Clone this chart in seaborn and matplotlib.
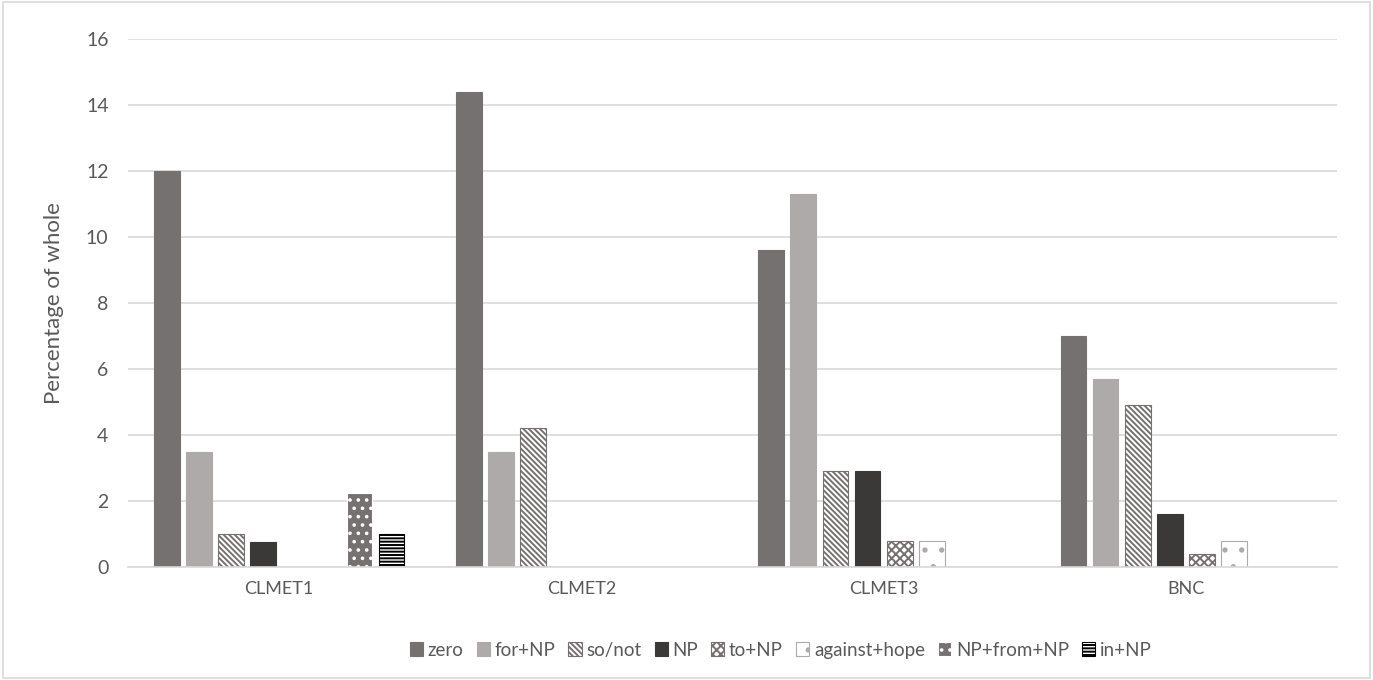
import matplotlib
matplotlib.use("Agg")
import matplotlib.pyplot as plt
import pandas as pd
import seaborn as sns
from matplotlib.patches import Rectangle

# valeurs (% du total)
CORPORA = ["CLMET1", "CLMET2", "CLMET3", "BNC"]
CONSTRUCTIONS = ["zero", "for+NP", "so/not", "NP", "to+NP",
                 "against+hope", "NP+from+NP", "in+NP"]
zero = [12.0, 14.4, 9.6, 7.0]
for_np = [3.5, 3.5, 11.3, 5.7]
so_not = [1.0, 4.2, 2.9, 4.9]
np_only = [0.75, 0.0, 2.9, 1.6]
to_np = [0.0, 0.0, 0.8, 0.4]
against_hope = [0.0, 0.0, 0.8, 0.8]
np_from_np = [2.25, 0.0, 0.0, 0.0]
in_np = [1.0, 0.0, 0.0, 0.0]

series = [zero, for_np, so_not, np_only, to_np, against_hope, np_from_np, in_np]

# (fond, couleur hachure/bord, hachure)
STYLES = {
    "zero": ("#767171", "#767171", None),
    "for+NP": ("#AEAAAA", "#AEAAAA", None),
    "so/not": ("white", "#767171", "\\\\\\\\\\\\"),
    "NP": ("#3B3838", "#3B3838", None),
    "to+NP": ("white", "#767171", "xxxx"),
    "against+hope": ("white", "#AEAAAA", "."),
    "NP+from+NP": ("#767171", "white", ".."),
    "in+NP": ("white", "black", "-----"),
}

rows = []
for name, vals in zip(CONSTRUCTIONS, series):
    for corpus, v in zip(CORPORA, vals):
        rows.append({"corpus": corpus, "construction": name, "value": v})
df = pd.DataFrame(rows)

sns.set_theme(style="whitegrid")
plt.rcParams["font.family"] = ["Lato", "DejaVu Sans"]
plt.rcParams["hatch.linewidth"] = 1.4

fig = plt.figure(figsize=(13.73, 6.80), dpi=100)
ax = fig.add_axes([0.0932, 0.166, 0.8806, 0.777])

sns.barplot(data=df, x="corpus", y="value", hue="construction",
            order=CORPORA, hue_order=CONSTRUCTIONS, width=0.85, gap=0.2,
            ax=ax, legend=False)

for name, cont in zip(CONSTRUCTIONS, ax.containers):
    face, edge, hatch = STYLES[name]
    for bar in cont:
        bar.set_facecolor(face)
        bar.set_edgecolor(edge)
        bar.set_hatch(hatch)
        bar.set_linewidth(0.8 if bar.get_height() > 0 else 0)

ax.set_ylim(0, 16)
ax.set_yticks(range(0, 17, 2))
ax.set_xlabel("")
ax.set_ylabel("Percentage of whole", fontsize=16, color="#595959", labelpad=16)
ax.tick_params(axis="y", labelsize=14, colors="#595959", length=0, pad=14)
ax.tick_params(axis="x", labelsize=13, colors="#595959", length=0, pad=10)
ax.grid(axis="y", color="#D9D9D9", linewidth=1.2)
ax.grid(axis="x", visible=False)
for side in ["left", "right", "top"]:
    ax.spines[side].set_visible(False)
ax.spines["bottom"].set_color("#D9D9D9")
ax.spines["bottom"].set_linewidth(1.2)

handles = []
for name in CONSTRUCTIONS:
    face, edge, hatch = STYLES[name]
    handles.append(Rectangle((0, 0), 1, 1, facecolor=face, edgecolor=edge,
                             hatch=hatch, linewidth=0.8))
ax.legend(handles, CONSTRUCTIONS, loc="center", bbox_to_anchor=(0.54, -0.157),
          ncol=8, frameon=False, handlelength=0.7, handleheight=0.7,
          handletextpad=0.25, columnspacing=0.7, fontsize=13.5,
          labelcolor="#595959")

fig.patches.append(Rectangle((0.002, 0.003), 0.996, 0.994, transform=fig.transFigure,
                             fill=False, edgecolor="#D9D9D9", linewidth=1.2))

fig.savefig("out.png", dpi=100)
plt.close(fig)
